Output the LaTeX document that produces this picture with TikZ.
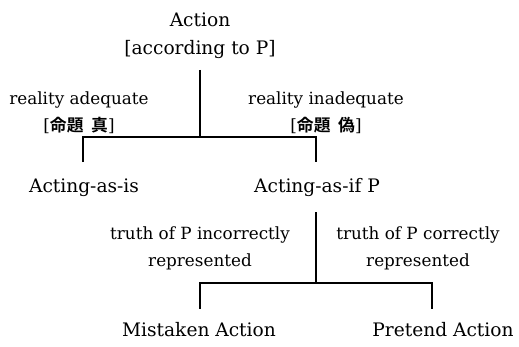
\documentclass[tikz,border=0pt]{standalone}
\usepackage{fontspec}
\setmainfont{DejaVu Serif}
\newfontfamily\jpfont{Noto Sans CJK JP Bold}
\tikzset{every picture/.style={ampersand replacement=\&}}
\tikzset{
  branch/.style={line width=1.2pt},
  term/.style={align=center, font=\fontsize{9.3}{14}\selectfont},
  lbl/.style={align=center, font=\fontsize{8.4}{13.5}\selectfont},
}

\begin{document}
\begin{tikzpicture}[x=0.5pt,y=-0.5pt]
  \useasboundingbox (0,0) rectangle (519,347);
  \node[term] (action) at (200,36) {Action\\{}[according to P]};
  \node[term] (asis) at (84,188) {Acting-as-is};
  \node[term] (asif) at (317,188) {Acting-as-if P};
  \node[term] (mistaken) at (199,330) {Mistaken Action};
  \node[term] (pretend) at (443,330) {Pretend Action};
  \node[lbl] (radq) at (79,113) {reality adequate\\{}[{\jpfont 命題\ \ 真}]};
  \node[lbl] (rinadq) at (326,113) {reality inadequate\\{}[{\jpfont 命題\ \ 偽}]};
  \node[lbl] (tinc) at (200,248) {truth of P incorrectly\\represented};
  \node[lbl] (tcor) at (418,248) {truth of P correctly\\represented};
  \coordinate (j1) at (200,137);
  \coordinate (j2) at (316,283);
  % first split
  \draw[branch,shorten <=2pt] (action) -- (j1);
  \draw[branch,shorten <=5pt,shorten >=5pt] ([xshift=-0.5pt]asis.north) |- (j1) -| ([xshift=-0.5pt]asif.north);
  % second split
  \draw[branch,shorten <=4pt] ([xshift=-0.5pt]asif.south) -- (j2);
  \draw[branch,shorten <=3.5pt,shorten >=3.5pt] ([xshift=0.5pt]mistaken.north) |- (j2) -| ([xshift=-5.5pt]pretend.north);
\end{tikzpicture}
\end{document}
